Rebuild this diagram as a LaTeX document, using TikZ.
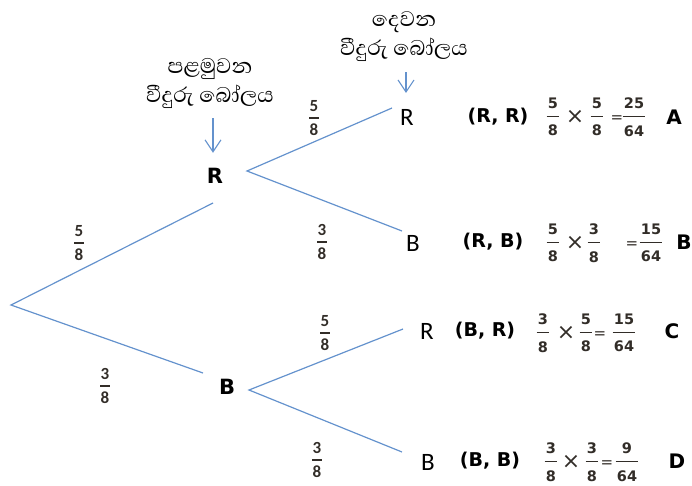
\documentclass[tikz,border=0pt]{standalone}
\usepackage{fontspec}
\setmainfont{Carlito}
\newfontfamily\sinhfont[Script=Sinhala]{Abhaya Libre}
\newfontfamily\dvfont{DejaVu Sans}
\usetikzlibrary{arrows.meta}
\definecolor{br}{RGB}{100,146,205}
\definecolor{fc}{RGB}{50,45,40}
\newcommand\fr[2]{{\fontsize{14.5}{16}\dvfont\bfseries\vbox{\halign{\hskip1.3pt\hfil##\hfil\hskip1.3pt\cr #1\cr\noalign{\kern 7.5pt\hrule height 1.1pt\kern 8pt}#2\cr}}}}
\newcommand\frt[2]{{\fontsize{17}{18}\selectfont\bfseries\vbox{\halign{\hskip0.2pt\hfil##\hfil\hskip0.2pt\cr #1\cr\noalign{\kern 5.5pt\hrule height 1.3pt\kern 5pt}#2\cr}}}}
\begin{document}
\begin{tikzpicture}[x=1pt,y=-1pt,
  every node/.style={inner sep=0pt,outer sep=0pt},
  br/.style={draw=br,line width=1.2pt},
  arr/.style={draw=br,line width=1.1pt,-{Straight Barb[length=12pt,width=16pt,line width=1.1pt]}},
  lf/.style={font=\fontsize{25}{28}\selectfont},
  lfb/.style={font=\fontsize{21}{24}\dvfont\bfseries},
  pair/.style={font=\fontsize{19}{24}\dvfont\bfseries},
  let/.style={font=\fontsize{20}{24}\dvfont\bfseries},
  frac/.style={text=fc},
  tim/.style={text=fc,font=\fontsize{22}{26}\dvfont},
  eqs/.style={text=fc,font=\fontsize{15}{16}\dvfont},
  sin/.style={font=\fontsize{27}{29}\sinhfont,align=center}]
\useasboundingbox (0,0) rectangle (692,485);
% labels above
\node[sin] (t1) at (210,83) {පළමුවන\\වීදුරු බෝලය};
\node[sin] (t2) at (404,37) {දෙවන\\වීදුරු බෝලය};
% tree nodes
\coordinate (o) at (11,305);
\node[lfb] (R1) at (215,176) {R};
\node[lfb] (B1) at (227,387) {B};
\node[lf] (RR) at (407,117) {R};
\node[lf] (RB) at (413,243) {B};
\node[lf] (BR) at (427,331) {R};
\node[lf] (BB) at (428,462) {B};
% branch end points
\coordinate (R1w) at (213,203);
\coordinate (B1w) at (203,373);
\coordinate (R1e) at (247,171);
\coordinate (B1e) at (249,390);
\coordinate (RRw) at (392,108);
\coordinate (RBw) at (402,231);
\coordinate (BRw) at (403,329);
\coordinate (BBw) at (402,452);
\draw[br] (R1w) -- (o) -- (B1w);
\draw[br] (RRw) -- (R1e) -- (RBw);
\draw[br] (BRw) -- (B1e) -- (BBw);
% arrows
\draw[arr] ([shift={(3,35)}]t1.center) -- ([xshift=-2pt,yshift=15.5pt]R1.north);
\draw[arr] ([shift={(2,35)}]t2.center) -- ([xshift=-1pt,yshift=16pt]RR.north);
% branch probabilities
\node[frac] (p1) at (79,243) {\frt{5}{8}};
\node[frac] (p2) at (105,386) {\frt{3}{8}};
\node[frac] (p3) at (314,118) {\frt{5}{8}};
\node[frac] (p4) at (322,242) {\frt{3}{8}};
\node[frac] (p5) at (325,333) {\frt{5}{8}};
\node[frac] (p6) at (317,460) {\frt{3}{8}};
% row 1
\node[pair] (r1) at (498,117) {(R, R)};
\node[frac] (r1a) at (553,117) {\fr{5}{8}};
\node[tim] (r1x) at (575,117) {×};
\node[frac] (r1b) at (597,117) {\fr{5}{8}};
\node[eqs] (r1e) at (617,119) {=};
\node[frac] (r1c) at (634,117) {\fr{25}{64}};
\node[let] (r1l) at (674,117) {A};
% row 2
\node[pair] (r2) at (493,242) {(R, B)};
\node[frac] (r2a) at (553,243) {\fr{5}{8}};
\node[tim] (r2x) at (575,243) {×};
\node[frac] (r2b) at (594,243) {\fr{3}{8}};
\node[eqs] (r2e) at (632,245) {=};
\node[frac] (r2c) at (651,243) {\fr{15}{64}};
\node[let] (r2l) at (684,242) {B};
% row 3
\node[pair] (r3) at (485,331) {(B, R)};
\node[frac] (r3a) at (543,333) {\fr{3}{8}};
\node[tim] (r3x) at (566,333) {×};
\node[frac] (r3b) at (586,333) {\fr{5}{8}};
\node[eqs] (r3e) at (600,335) {=};
\node[frac] (r3c) at (624,333) {\fr{15}{64}};
\node[let] (r3l) at (672,331) {C};
% row 4
\node[pair] (r4) at (490,461) {(B, B)};
\node[frac] (r4a) at (551,462) {\fr{3}{8}};
\node[tim] (r4x) at (571,462) {×};
\node[frac] (r4b) at (592,462) {\fr{3}{8}};
\node[eqs] (r4e) at (607,464) {=};
\node[frac] (r4c) at (627,462) {\fr{9}{64}};
\node[let] (r4l) at (677,461) {D};
\end{tikzpicture}
\end{document}
